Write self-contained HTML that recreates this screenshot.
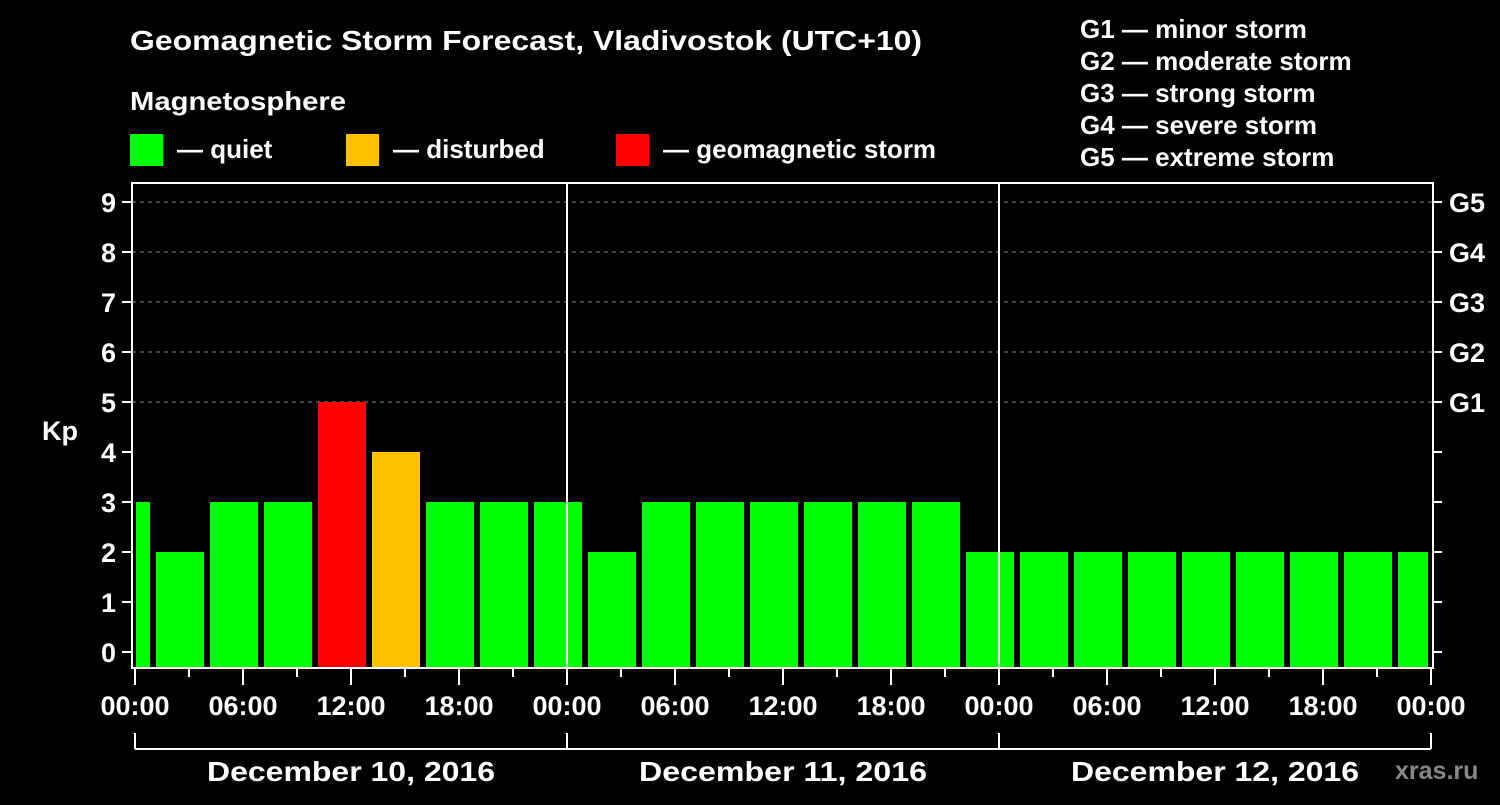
<!DOCTYPE html>
<html><head><meta charset="utf-8"><style>
body{margin:0;background:#000;}
svg text{font-family:"Liberation Sans",sans-serif;font-weight:bold;fill:#fff;}
</style></head><body>
<svg width="1500" height="800" viewBox="0 0 1500 800" xmlns="http://www.w3.org/2000/svg" id="chart">
<rect width="1500" height="800" fill="#000"/>
<text x="130" y="50" font-size="28" textLength="792" lengthAdjust="spacingAndGlyphs">Geomagnetic Storm Forecast, Vladivostok (UTC+10)</text>
<text x="130" y="110" font-size="26" textLength="216" lengthAdjust="spacingAndGlyphs">Magnetosphere</text>
<g>
<rect x="130" y="134" width="33" height="32" fill="#00ff00"/>
<text x="177" y="158" font-size="26">— quiet</text>
<rect x="346" y="134" width="33" height="32" fill="#ffc000"/>
<text x="393" y="158" font-size="26">— disturbed</text>
<rect x="616" y="134" width="33" height="32" fill="#ff0000"/>
<text x="663" y="158" font-size="26">— geomagnetic storm</text>
</g>
<g font-size="26">
<text x="1080" y="38">G1 — minor storm</text>
<text x="1080" y="70">G2 — moderate storm</text>
<text x="1080" y="102">G3 — strong storm</text>
<text x="1080" y="134">G4 — severe storm</text>
<text x="1080" y="166">G5 — extreme storm</text>
</g>
<text x="42" y="440" font-size="27">Kp</text>
<text x="1395" y="779" font-size="25" style="fill:#888">xras.ru</text>
<g id="plot"></g>
</svg>
<script>
const kpValues = [3, 2,3,3,5,4,3,3,3, 2,3,3,3,3,3,3,2, 2,2,2,2,2,2,2,2];
const kpTicks = [0,1,2,3,4,5,6,7,8,9];
const gLabels = ["G1","G2","G3","G4","G5"];
const timeLabels = ["00:00","06:00","12:00","18:00"];
const dayLabels = ["December 10, 2016","December 11, 2016","December 12, 2016"];

const NS="http://www.w3.org/2000/svg";
const plot=document.getElementById('plot');
const X0=135, DAYW=432, PL=132, PR=1433, PT=183, PB=668;
const xH=h=>X0+h*DAYW/24;
const yK=k=>652-k*50;
function mk(tag,attrs,parent){const e=document.createElementNS(NS,tag);for(const k in attrs)e.setAttribute(k,attrs[k]);(parent||plot).appendChild(e);return e;}
kpTicks.forEach(k=>{
  if(k>=5){const g=mk('line',{x1:PL,x2:PR,y1:yK(k),y2:yK(k),stroke:'#888','stroke-dasharray':'4,4','stroke-width':1});
  
  }
  mk('line',{x1:122,x2:PL,y1:yK(k),y2:yK(k),stroke:'#fff','stroke-width':2});
  mk('line',{x1:PR,x2:1442,y1:yK(k),y2:yK(k),stroke:'#fff','stroke-width':2});
  const l=mk('text',{x:116,y:yK(k)+10,'font-size':27,'text-anchor':'end'});l.textContent=k;
  
  
});
gLabels.forEach((g,i)=>{const l=mk('text',{x:1449,y:yK(5+i)+10,'font-size':27});l.textContent=g;
  
  });
kpValues.forEach((v,i)=>{
  let s=-2+3*i, e=s+3;
  let xs=Math.max(xH(s),X0)+(i==0?1:3), xe=Math.min(xH(e),xH(72))-3;
  const col=v>=5?'#ff0000':(v>=4?'#ffc000':'#00ff00');
  const r=mk('rect',{x:xs,y:yK(v),width:xe-xs,height:PB-yK(v),fill:col});
  
  
});
const f=mk('rect',{x:PL,y:PT,width:PR-PL,height:PB-PT,fill:'none',stroke:'#fff','stroke-width':2});


[1,2].forEach(d=>mk('line',{x1:xH(24*d),x2:xH(24*d),y1:PT,y2:PB,stroke:'#fff','stroke-width':2}));
for(let h=0;h<=72;h+=3){mk('line',{x1:xH(h),x2:xH(h),y1:PB,y2:h%6==0?685:677,stroke:'#fff','stroke-width':2});}
for(let h=0;h<=72;h+=6){const l=mk('text',{x:xH(h),y:715,'font-size':27,'text-anchor':'middle'});l.textContent=timeLabels[(h/6)%4];
  
  }
mk('line',{x1:X0,x2:xH(72),y1:749,y2:749,stroke:'#fff','stroke-width':2});
for(let d=0;d<=3;d++)mk('line',{x1:xH(24*d),x2:xH(24*d),y1:733,y2:749,stroke:'#fff','stroke-width':2});
dayLabels.forEach((t,d)=>{const l=mk('text',{x:xH(24*d+12),y:781,'font-size':28,'text-anchor':'middle',textLength:288,lengthAdjust:'spacingAndGlyphs'});l.textContent=t;
  
  });
</script>
</body></html>
